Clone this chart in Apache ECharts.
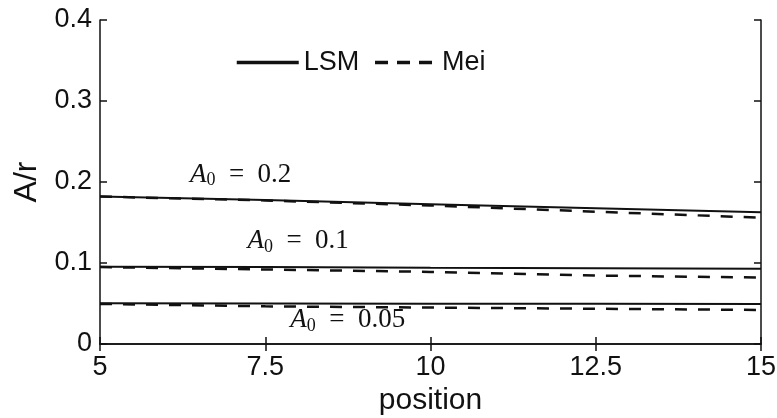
<!DOCTYPE html>
<html><head><meta charset="utf-8">
<script src="https://cdn.jsdelivr.net/npm/echarts@6/dist/echarts.min.js"></script>
<style>html,body{margin:0;padding:0;background:#fff}#c{width:777px;height:418px}</style>
</head><body><div id="c"></div>
<script>
const positions = [5, 7.5, 10, 12.5, 15];
const lsm02 = [0.182, 0.1778, 0.1725, 0.1675, 0.1626];
const mei02 = [0.182, 0.1772, 0.171, 0.1633, 0.156];
const lsm01 = [0.0955, 0.095, 0.094, 0.0935, 0.093];
const mei01 = [0.095, 0.092, 0.089, 0.0845, 0.082];
const lsm005 = [0.0502, 0.05, 0.0498, 0.0496, 0.0494];
const mei005 = [0.0495, 0.0465, 0.045, 0.0435, 0.042];
const xTicks = [5, 7.5, 10, 12.5, 15];
const yTicks = [0, 0.1, 0.2, 0.3, 0.4];
const annotations = [
  {text: '0.2', x: 6.36, y: 0.209},
  {text: '0.1', x: 7.23, y: 0.127},
  {text: '0.05', x: 7.88, y: 0.0296}
];

const pair = (arr) => positions.map((p, i) => [p, arr[i]]);
const FONT = '"Liberation Sans", Arial, sans-serif';
const axisCommon = {
  axisLine: {show: true, lineStyle: {color: '#111', width: 1.5}},
  axisTick: {show: true, inside: true, length: 7, lineStyle: {color: '#111', width: 1.5}},
  splitLine: {show: false}
};
function lineSeries(name, arr, dashed) {
  return {
    type: 'line', name: name, data: pair(arr), symbol: 'none',
    lineStyle: {color: '#111', width: dashed ? 2.5 : 2, type: dashed ? [12, 11] : 'solid'},
    itemStyle: {color: '#111'}, z: dashed ? 3 : 4, animation: false
  };
}
const series = [
  lineSeries('LSM', lsm02, false), lineSeries('Mei', mei02, true),
  lineSeries('LSM', lsm01, false), lineSeries('Mei', mei01, true),
  lineSeries('LSM', lsm005, false), lineSeries('Mei', mei005, true)
];
series[0].markPoint = {
  symbol: 'circle', symbolSize: 0, animation: false,
  label: {
    show: true, position: 'right', distance: 0,
    formatter: (p) => '{a|A}{s|0}{t|\u2002=\u2002' + p.name + '}',
    rich: {
      a: {fontFamily: '"Liberation Serif", "DejaVu Serif", serif', fontStyle: 'italic', fontSize: 27, color: '#111'},
      s: {fontFamily: '"Liberation Serif", serif', fontSize: 18, color: '#111', padding: [12, 0, 0, 0]},
      t: {fontFamily: '"Liberation Serif", serif', fontSize: 27, color: '#111'}
    }
  },
  data: annotations.map(a => ({name: a.text, coord: [a.x, a.y]}))
};

const chart = echarts.init(document.getElementById('c'));
chart.setOption({
  animation: false,
  backgroundColor: '#fff',
  textStyle: {fontFamily: FONT},
  grid: {left: 100, right: 16, top: 20, bottom: 74, containLabel: false, outerBoundsMode: 'none'},
  legend: {
    data: [
      {name: 'LSM', lineStyle: {type: 'solid', width: 3.5, color: '#111'}, itemStyle: {opacity: 0}},
      {name: 'Mei', lineStyle: {type: [13, 9], width: 3.5, color: '#111'}, itemStyle: {opacity: 0}}
    ],
    itemStyle: {opacity: 0},
    left: 230, top: 44, itemWidth: 62, itemHeight: 14, itemGap: 14,
    textStyle: {fontSize: 27, color: '#111', fontFamily: FONT, padding: [0, 0, 0, 0]},
    selectedMode: false
  },
  xAxis: [
    Object.assign({type: 'value', min: 5, max: 15, interval: 2.5, position: 'bottom',
      name: 'position', nameLocation: 'middle', nameGap: 42,
      nameTextStyle: {fontSize: 30, color: '#111', fontFamily: FONT},
      axisLabel: {fontSize: 27, color: '#111', margin: 10, fontFamily: FONT,
        formatter: (v) => xTicks.includes(v) ? String(v) : ''}}, axisCommon),
    Object.assign({type: 'value', min: 5, max: 15, interval: 2.5, position: 'top',
      axisLabel: {show: false}}, axisCommon)
  ],
  yAxis: [
    Object.assign({type: 'value', min: 0, max: 0.4, interval: 0.1, position: 'left',
      name: 'A/r', nameLocation: 'middle', nameGap: 57, nameRotate: 90,
      nameTextStyle: {fontSize: 32, color: '#111', fontFamily: FONT},
      axisLabel: {fontSize: 27, color: '#111', margin: 8, fontFamily: FONT,
        formatter: (v) => { const t = yTicks.find(y => Math.abs(y - v) < 1e-9); return t === undefined ? '' : (t === 0 ? '0' : t.toFixed(1)); }}}, axisCommon),
    Object.assign({type: 'value', min: 0, max: 0.4, interval: 0.1, position: 'right',
      axisLabel: {show: false}}, axisCommon)
  ],
  series: series
});
</script></body></html>
